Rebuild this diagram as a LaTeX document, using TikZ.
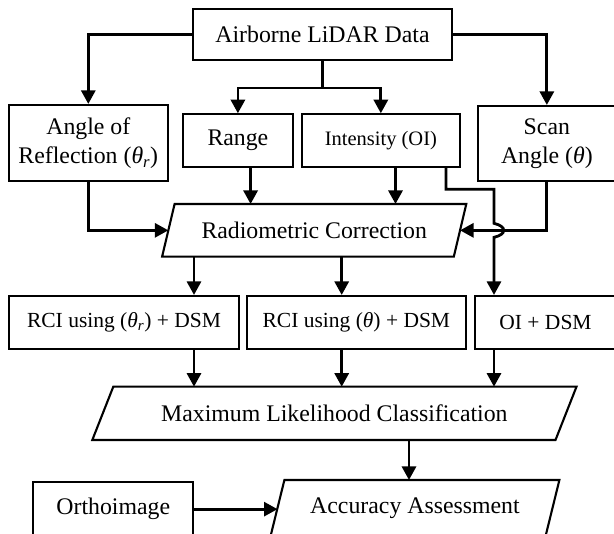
\documentclass[tikz,border=0pt]{standalone}
\usepackage{fontspec}
\setmainfont{Liberation Serif}
\usetikzlibrary{arrows.meta}

\newcommand\mainsize{\fontsize{23.8pt}{29pt}\selectfont}
\newcommand\midsize{\fontsize{21.5pt}{26pt}\selectfont}
\newcommand\smallsize{\fontsize{20.5pt}{25pt}\selectfont}
% parallelogram outline around a (plain) node: #1 node name, #2 half slant
\newcommand\slantbox[2]{%
  \draw[edge] ([xshift=#2]#1.north west) -- ([xshift=#2]#1.north east)
    -- ([xshift=-#2]#1.south east) -- ([xshift=-#2]#1.south west) -- cycle;}

\tikzset{
  edge/.style={line width=2.1pt, line join=miter},
  frame/.style={draw, edge, inner sep=0pt, align=center, font=\mainsize},
  plain/.style={inner sep=0pt, outer sep=0pt, align=center, font=\mainsize},
  link/.style={line width=2.8pt},
  arr/.style={link, -{Triangle[length=13.5pt,width=14pt]}},
}

\begin{document}
\begin{tikzpicture}[x=1pt,y=-1pt]
\clip (0,0) rectangle (614,534);

% boxes
\node[frame, minimum width=259pt, minimum height=51pt] (air) at (322.5,34.5) {Airborne LiDAR Data};
\node[frame, minimum width=158.7pt, minimum height=76pt] (aor) at (88.3,143)
  {Angle of\\Reflection ({\itshape θ}\textsubscript{\itshape r})};
\node[frame, minimum width=109.7pt, minimum height=52.4pt] (rng) at (237.9,140.5) {Range};
\node[frame, font=\smallsize, minimum width=158.3pt, minimum height=52.4pt] (int) at (380.85,140.5) {Intensity (OI)};
\node[frame, minimum width=138.3pt, minimum height=75pt] (scan) at (546.85,143.5)
  {Scan\\Angle ({\itshape θ})};

\node[plain, minimum width=291.7pt, minimum height=52.7pt] (rc) at (314.2,230.35) {Radiometric Correction};
\slantbox{rc}{6.25pt}

\node[frame, font=\midsize, minimum width=230pt, minimum height=53.3pt] (rci1) at (124,322.65)
  {RCI using ({\itshape θ}\textsubscript{\itshape r}) + DSM};
\node[frame, font=\midsize, minimum width=219.3pt, minimum height=53.3pt] (rci2) at (356.35,322.65)
  {RCI using ({\itshape θ}) + DSM};
\node[frame, font=\midsize, minimum width=141pt, minimum height=53.3pt] (oidsm) at (545.5,322.65) {OI + DSM};

\node[plain, minimum width=463.2pt, minimum height=53.3pt] (mlc) at (334.4,413.35) {Maximum Likelihood Classification};
\slantbox{mlc}{10.5pt}

\node[plain, minimum width=275pt, minimum height=56pt] (aa) at (415,508) {Accuracy Assessment};
\slantbox{aa}{6.9pt}
\node[frame, minimum width=160pt, minimum height=53.7pt] (ortho) at (113.3,509.15) {Orthoimage};

% connector columns
\coordinate (cR) at (250.6,0);
\coordinate (cI) at (395.5,0);
\coordinate (cO) at (446,0);
\coordinate (cA) at (194,0);
\coordinate (cB) at (341.7,0);
\coordinate (cC) at (494,0);
\coordinate (cM) at (409,0);

% from the LiDAR data
\draw[arr] (air.west) -| (aor.north);
\draw[arr] (air.east) -| (scan.north);
\draw[link] (air.south) -- ++(0,27) coordinate (split);
\draw[arr] (split) -| (rng.north);
\draw[arr] (split) -| (int.north);

% into the radiometric correction
\draw[arr] (cR |- rng.south) -- (cR |- rc.north);
\draw[arr] (cI |- int.south) -- (cI |- rc.north);
\draw[arr] (aor.south) |- (rc.west);
\draw[arr] (scan.south) |- (rc.east);

% original intensity, hopping over the scan angle line
\coordinate (jog) at (494,189.3);
\coordinate (hop) at (jog |- rc.east);
\draw[arr] (cO |- int.south) |- (jog) -- ([yshift=7pt]hop)
  .. controls +(13,3) and +(13,-3) .. ([yshift=-7pt]hop) -- (jog |- oidsm.north);

% corrected intensities
\draw[arr] (cA |- rc.south) -- (cA |- rci1.north);
\draw[arr] (cB |- rc.south) -- (cB |- rci2.north);

% into the classification
\draw[arr] (cA |- rci1.south) -- (cA |- mlc.north);
\draw[arr] (cB |- rci2.south) -- (cB |- mlc.north);
\draw[arr] (cC |- oidsm.south) -- (cC |- mlc.north);

% assessment
\draw[arr] (cM |- mlc.south) -- (cM |- aa.north);
\draw[arr] (ortho.east) -- (ortho.east -| aa.west);
\end{tikzpicture}
\end{document}
